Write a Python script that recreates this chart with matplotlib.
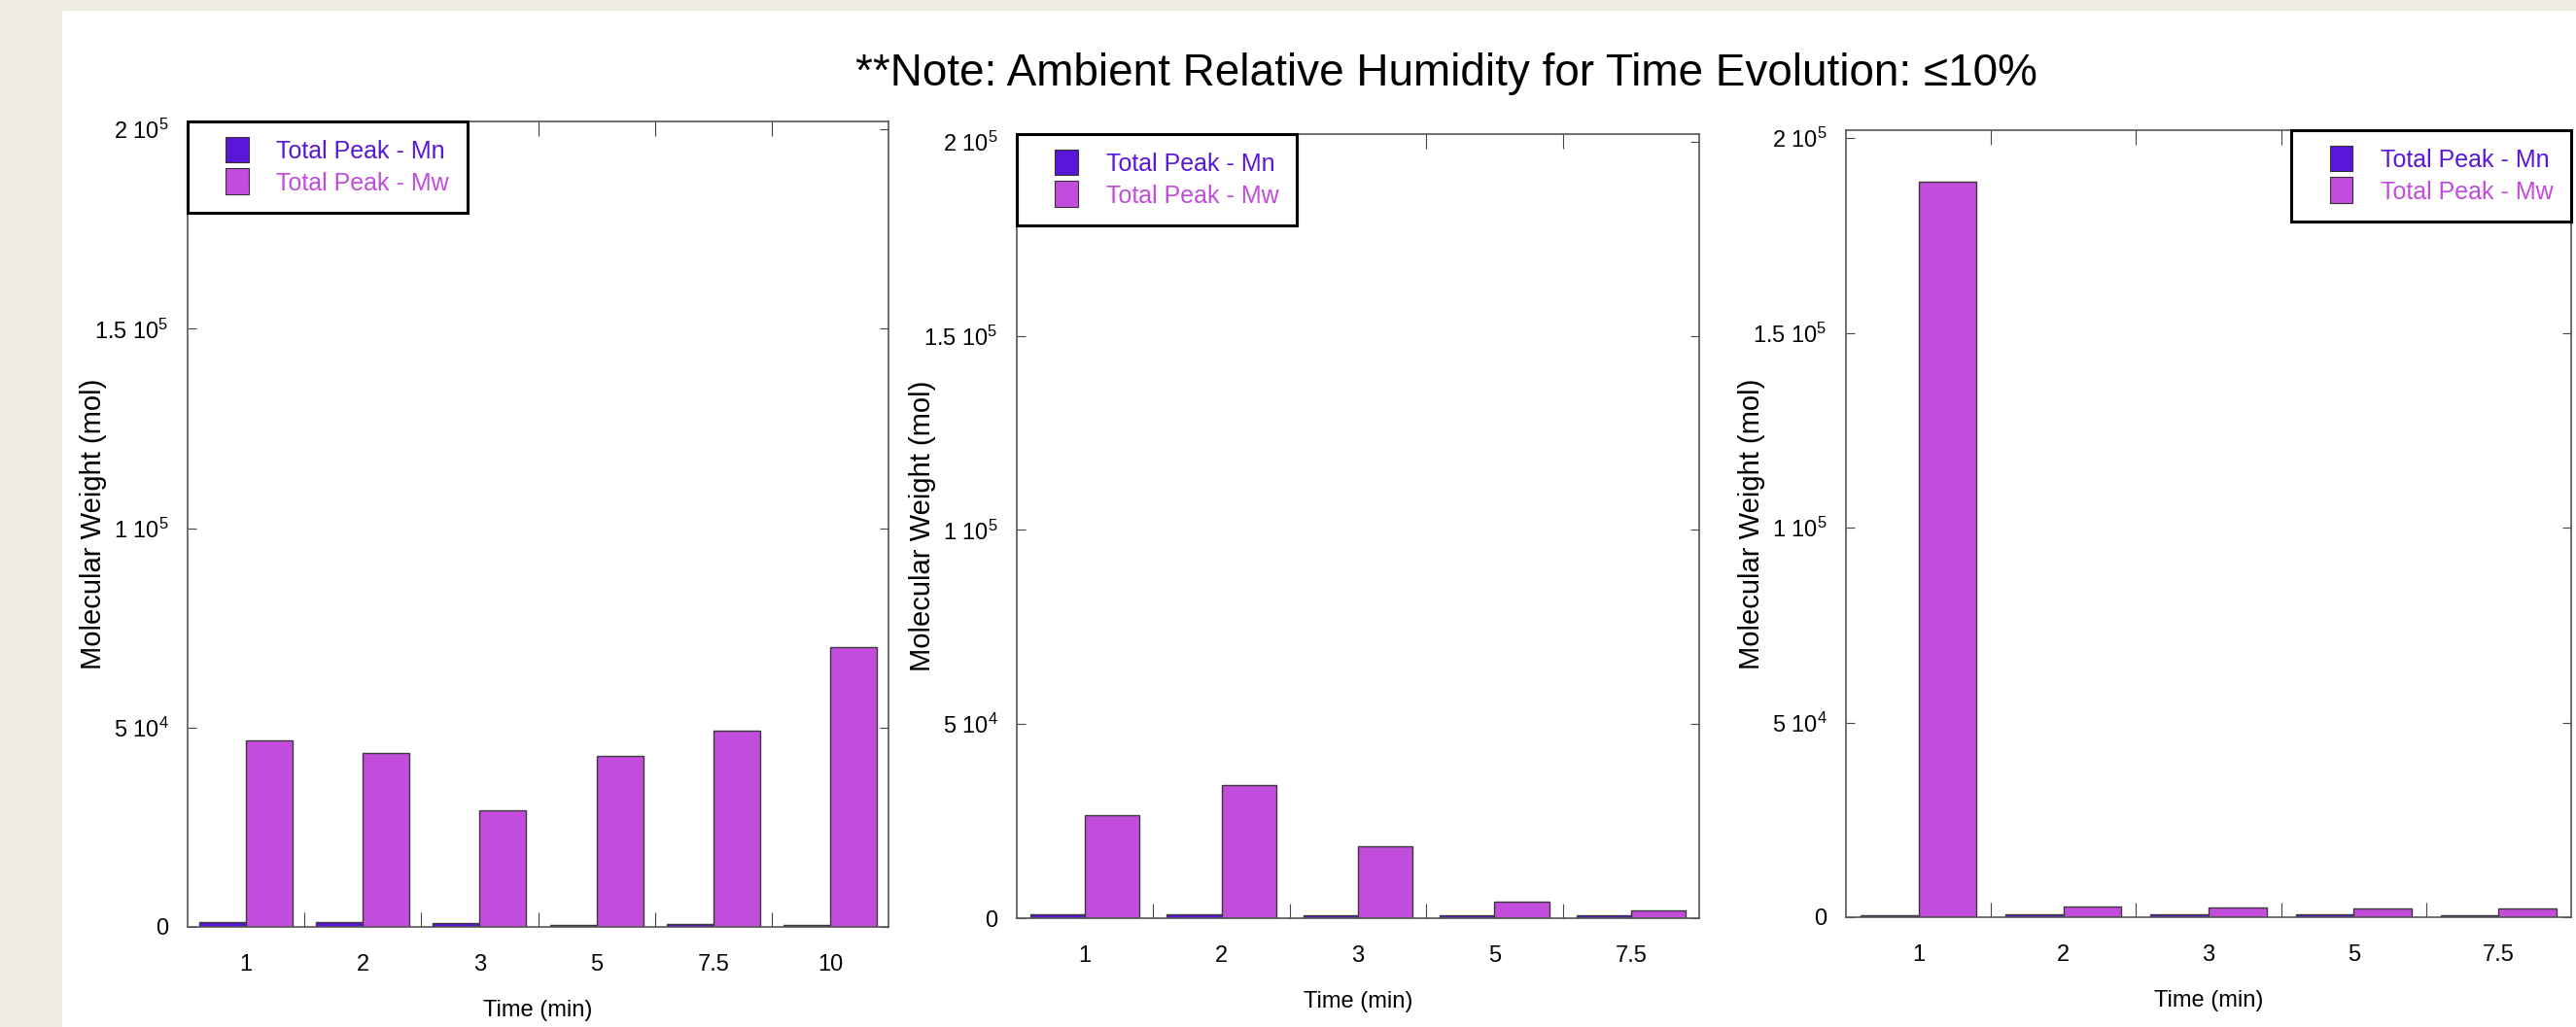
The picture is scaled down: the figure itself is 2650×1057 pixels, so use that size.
import numpy as np
import matplotlib
matplotlib.use("Agg")
import matplotlib.pyplot as plt
import matplotlib.patches as mpatches
from matplotlib.legend_handler import HandlerPatch

plt.rcParams['font.family'] = ['Liberation Sans', 'DejaVu Sans']
plt.rcParams['mathtext.default'] = 'regular'

# GPC results, molecular weight per sampling time
times_a = ["1", "2", "3", "5", "7.5", "10"]
mn_a = [1150, 1150, 900, 400, 650, 400]
mw_a = [46900, 43500, 29200, 43000, 49300, 70200]

times_b = ["1", "2", "3", "5", "7.5"]
mn_b = [1000, 1000, 750, 750, 750]
mw_b = [26600, 34200, 18500, 4300, 1900]

times_c = ["1", "2", "3", "5", "7.5"]
mn_c = [500, 670, 670, 670, 500]
mw_c = [188700, 2800, 2600, 2300, 2200]

ytick_vals = [0, 5e4, 1e5, 1.5e5, 2e5]
ytick_text = ["0", "5 10$^4$", "1 10$^5$", "1.5 10$^5$", "2 10$^5$"]

series_names = ["Total Peak - Mn", "Total Peak - Mw"]
mn_color = "#5a17d9"
mw_color = "#c24cdc"
edge = "#3a3a3a"
beige = "#eeebe4"

W, H = 2650, 1057
fig = plt.figure(figsize=(W / 100, H / 100), dpi=100)
fig.patch.set_facecolor("white")
fig.patches.append(mpatches.Rectangle((0, 0), 63 / W, 1, transform=fig.transFigure,
                                      color=beige, zorder=-1))
fig.patches.append(mpatches.Rectangle((0, 1 - 10 / H), 1, 10 / H, transform=fig.transFigure,
                                      color=beige, zorder=-1))


class BoxHandler(HandlerPatch):
    # square swatch pushed to the right end of the handle area
    def create_artists(self, legend, orig_handle, xdescent, ydescent, width, height,
                       fontsize, trans):
        w, h = 16.6, 19.4
        p = mpatches.Rectangle((-xdescent + width - w, -ydescent + height / 2 - h / 2), w, h,
                               facecolor=orig_handle.get_facecolor(), edgecolor="#333333",
                               linewidth=0.8, transform=trans)
        return [p]


def panel(box, times, mn, mw, legend_loc):
    l, r, t, b = box
    ax = fig.add_axes([l / W, 1 - b / H, (r - l) / W, (b - t) / H])
    x = np.arange(1, len(times) + 1)
    ax.bar(x - 0.2, mn, width=0.4, color=mn_color, edgecolor=edge, linewidth=1)
    ax.bar(x + 0.2, mw, width=0.4, color=mw_color, edgecolor=edge, linewidth=1)

    ax.set_xlim(0.5, len(times) + 0.5)
    ax.set_ylim(0, 2.02e5)
    ax.set_xticks(x, times)
    ax.set_xticks(np.arange(1.5, len(times), 1), minor=True)
    ax.tick_params(axis="x", which="major", length=0, pad=20, labelsize=17)
    ax.tick_params(axis="x", which="minor", direction="in", length=11, width=0.8,
                   top=True, bottom=True, color="#444444")
    ax.set_yticks(ytick_vals, ytick_text)
    ax.tick_params(axis="y", direction="in", length=6.5, width=0.8, left=True, right=True,
                   pad=14, labelsize=17, color="#444444")
    for s in ax.spines.values():
        s.set_color("#555555")
        s.set_linewidth(1.2)
    ax.set_xlabel("Time (min)", fontsize=17, labelpad=18)
    fig.text((l - 97) / W, 1 - (t + b) / 2 / H, "Molecular Weight (mol)", rotation=90,
             ha="center", va="center", fontsize=21)

    handles = [mpatches.Patch(facecolor=mn_color), mpatches.Patch(facecolor=mw_color)]
    anchor = (0, 1) if legend_loc == "upper left" else (1, 1)
    leg = ax.legend(handles, series_names, loc=legend_loc, bbox_to_anchor=anchor,
                    borderaxespad=0, fontsize=18, handlelength=1.75, handletextpad=1.16,
                    borderpad=0.75, labelspacing=0.35, fancybox=False, framealpha=1,
                    edgecolor="black", handler_map={mpatches.Patch: BoxHandler()})
    leg.get_frame().set_linewidth(2.2)
    for txt, c in zip(leg.get_texts(), [mn_color, mw_color]):
        txt.set_color(c)
    return ax


panel((193, 914, 125, 954), times_a, mn_a, mw_a, "upper left")
panel((1046, 1748, 138, 945), times_b, mn_b, mw_b, "upper left")
panel((1899, 2645, 134, 944), times_c, mn_c, mw_c, "upper right")

fig.text(1488 / W, 1 - 88 / H,
         "**Note: Ambient Relative Humidity for Time Evolution: \u226410%",
         ha="center", va="baseline", fontsize=33)

fig.savefig("out.png", dpi=100)
